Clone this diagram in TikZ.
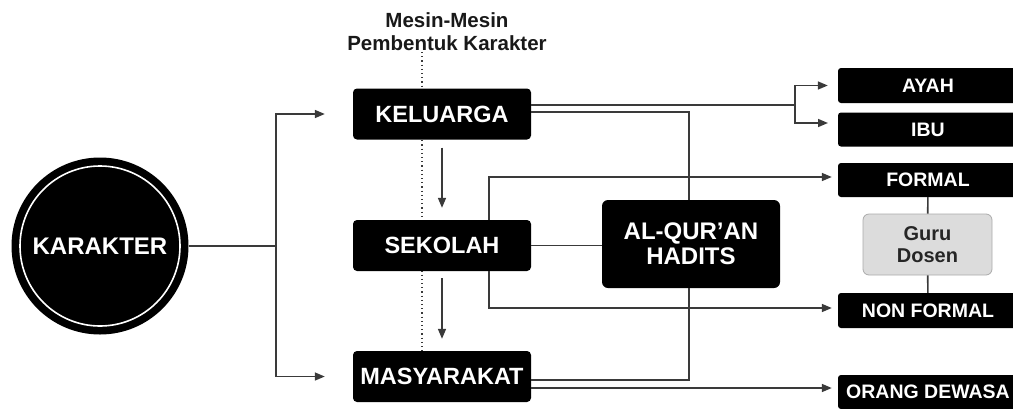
\documentclass[tikz,border=0pt]{standalone}
\usepackage{fontspec}
\setmainfont{Liberation Sans}
\usetikzlibrary{arrows.meta}
\definecolor{linegray}{HTML}{3A3A3A}
\definecolor{gurufill}{HTML}{DCDCDC}
\definecolor{gurudraw}{HTML}{ABABAB}

\begin{document}
\begin{tikzpicture}[x=1pt, y=-1pt,
  >={Triangle[length=10pt,width=8pt]},
  bigbox/.style={rectangle, rounded corners=4pt, fill=black, text=white,
    minimum width=178pt, minimum height=51pt, inner sep=0pt,
    font=\bfseries\fontsize{23.5}{25}\selectfont},
  smallbox/.style={rectangle, rounded corners=3pt, fill=black, text=white,
    minimum width=180pt, minimum height=34pt, inner sep=0pt,
    font=\bfseries\fontsize{19.5}{21}\selectfont},
  conn/.style={draw=linegray, line width=1.6pt}
  ]
  %
  \useasboundingbox (0,0) rectangle (1013,408);

  % dotted guide behind the boxes
  \coordinate (DT) at (422,52);
  \coordinate (DB) at (422,351);
  \draw[linegray, line width=1.2pt, dash pattern=on 1.2pt off 3pt] (DT) -- (DB);

  \node[align=center, inner sep=0pt, text=black!90,
    font=\bfseries\fontsize{20.5}{23}\selectfont] (TTL) at (447,31.5)
    {Mesin-Mesin\\Pembentuk Karakter};

  \node[circle, fill=black, minimum size=177pt, inner sep=0pt, text=white,
    font=\bfseries\fontsize{24}{26}\selectfont] (KAR) at (100,246) {KARAKTER};
  \draw[white, line width=1.6pt] (KAR.center) circle (80pt);

  \node[bigbox] (KEL) at (442,114)   {KELUARGA};
  \node[bigbox] (SEK) at (442,245.5) {SEKOLAH};
  \node[bigbox] (MAS) at (442,376.5) {MASYARAKAT};
  \node[bigbox, rounded corners=6pt, minimum height=88pt, align=center,
    font=\bfseries\fontsize{24}{25}\selectfont] (ALQ) at (691,244)
    {AL-QUR’AN\\HADITS};

  \node[smallbox, minimum height=35pt] (AYAH) at (928,85.5)  {AYAH};
  \node[smallbox]                      (IBU)  at (928,129.5) {IBU};
  \node[smallbox]                      (FOR)  at (928,180)   {FORMAL};
  \node[smallbox, minimum height=35pt] (NONF) at (928,310.5) {NON FORMAL};
  \node[smallbox]                      (ORG)  at (928,392)   {ORANG DEWASA};
  \node[rectangle, rounded corners=6pt, fill=gurufill, draw=gurudraw,
    line width=0.8pt, minimum width=129pt, minimum height=61pt,
    align=center, text=black!85,
    font=\bfseries\fontsize{20}{22}\selectfont] (GURU) at (927.5,244.5)
    {Guru\\Dosen};

  % from KARAKTER
  \coordinate (SPL) at (276,246);
  \draw[conn] (KAR) -- (SPL);
  \draw[conn,->,shorten >=28pt] (SPL) |- (KEL);
  \draw[conn,->,shorten >=28pt] (SPL) |- (MAS);

  \draw[conn,->,shorten <=8pt,shorten >=12pt] (KEL) -- (SEK);
  \draw[conn,->,shorten <=7pt,shorten >=12pt] (SEK) -- (MAS);

  % KELUARGA
  \coordinate (FAM) at (795,105);
  \coordinate (IBUIN) at (828,123);
  \draw[conn] (KEL.east |- FAM) -- (FAM);
  \draw[conn,->,shorten >=10pt] (FAM) |- (AYAH);
  \draw[conn,->] (FAM) |- (IBUIN);
  \coordinate (KAQ) at (689,112);
  \draw[conn] (KEL.east |- KAQ) -- (KAQ) -- (KAQ |- ALQ.north);

  % SEKOLAH
  \coordinate (SF) at (489,177);
  \draw[conn,->,shorten >=6pt] (SF |- SEK.north) -- (SF) -- (SF -| FOR.west);
  \coordinate (SN) at (489,308);
  \draw[conn,->,shorten >=6pt] (SN |- SEK.south) -- (SN) -- (SN -| NONF.west);
  \draw[conn] (SEK.east) -- (SEK.east -| ALQ.west);

  % MASYARAKAT
  \coordinate (MAQ) at (689,380);
  \draw[conn] (MAS.east |- MAQ) -- (MAQ) -- (MAQ |- ALQ.south);
  \coordinate (MO) at (689,388);
  \draw[conn,->,shorten >=6pt] (MAS.east |- MO) -- (MO -| ORG.west);

  \draw[conn] (FOR) -- (GURU);
  \draw[conn] (GURU) -- (NONF);

\end{tikzpicture}
\end{document}
